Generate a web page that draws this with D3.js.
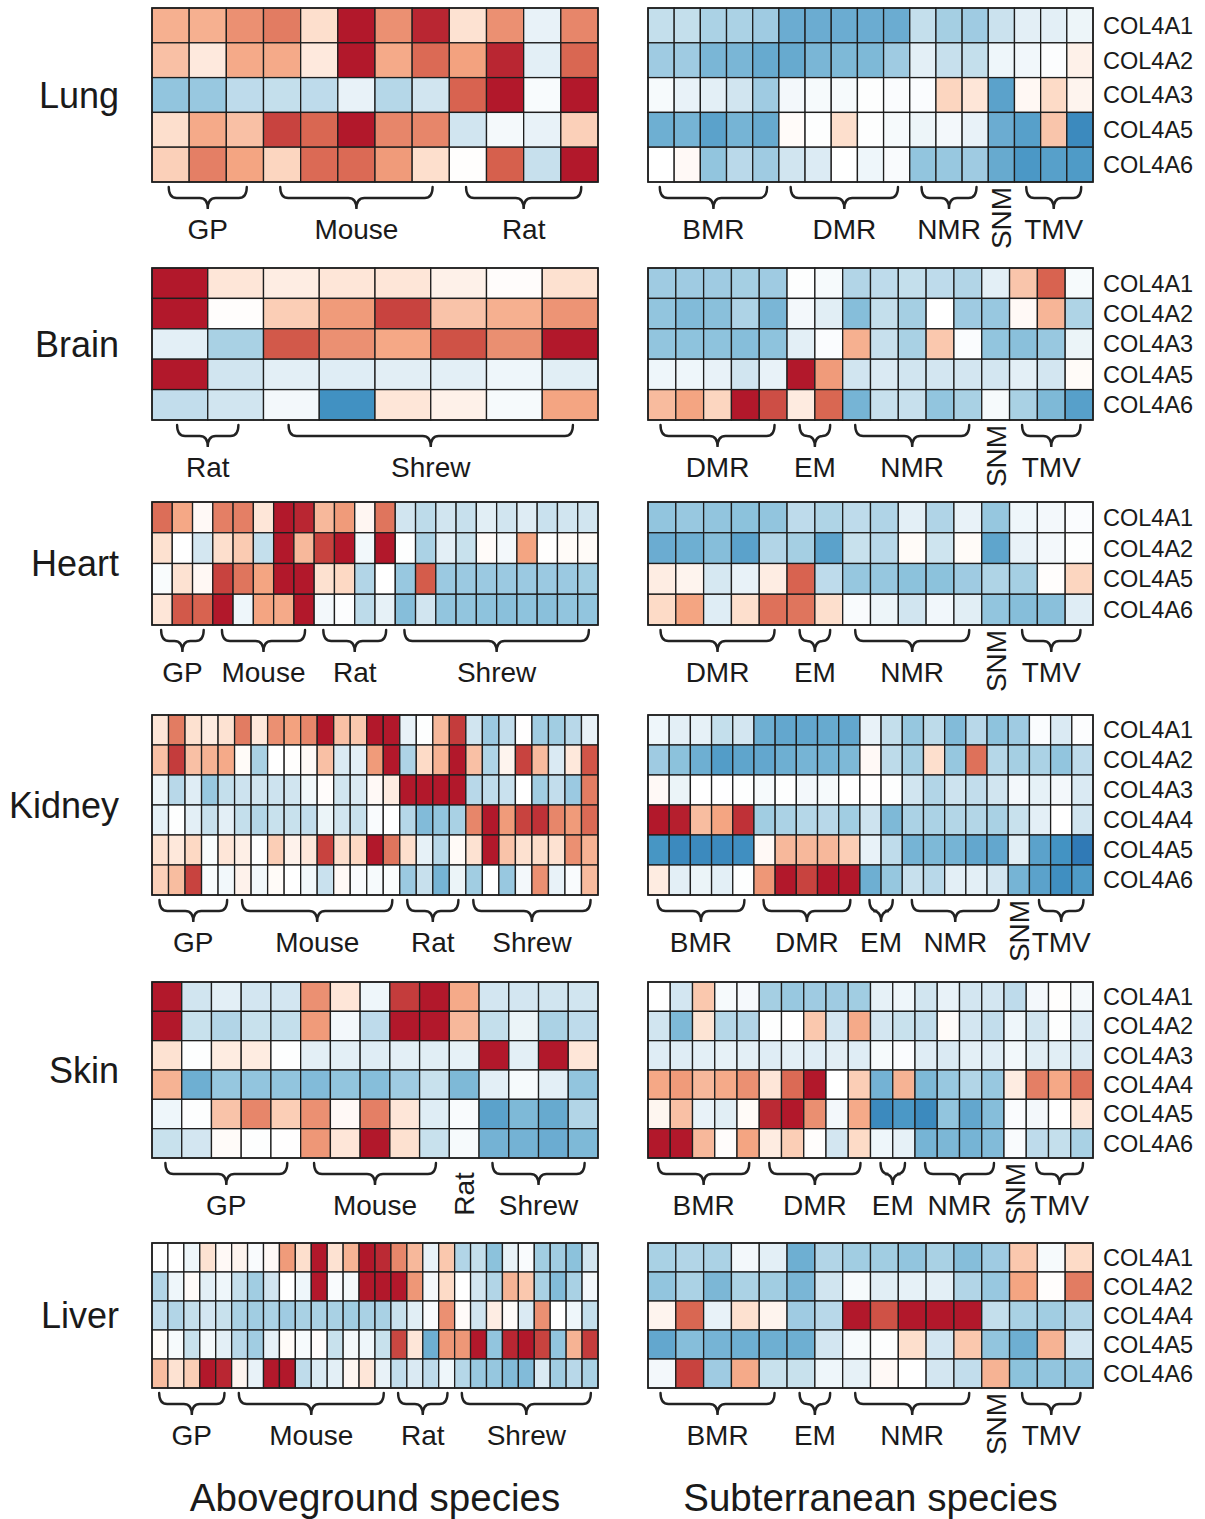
<!DOCTYPE html>
<html>
<head>
<meta charset="utf-8">
<script src="https://cdn.jsdelivr.net/npm/d3@7/dist/d3.min.js"></script>
<style>
  body { margin: 0; background: #fff; }
  text { font-family: "Liberation Sans", Arial, Helvetica, sans-serif; fill: #1a1a1a; }
</style>
</head>
<body>
<div id="chart"></div>
<script>
// ---- data (relative expression, blue = low, red = high) ----
var tissues = ["Lung", "Brain", "Heart", "Kidney", "Skin", "Liver"];

var lungGenes   = ["COL4A1", "COL4A2", "COL4A3", "COL4A5", "COL4A6"];
var brainGenes  = ["COL4A1", "COL4A2", "COL4A3", "COL4A5", "COL4A6"];
var heartGenes  = ["COL4A1", "COL4A2", "COL4A5", "COL4A6"];
var kidneyGenes = ["COL4A1", "COL4A2", "COL4A3", "COL4A4", "COL4A5", "COL4A6"];
var skinGenes   = ["COL4A1", "COL4A2", "COL4A3", "COL4A4", "COL4A5", "COL4A6"];
var liverGenes  = ["COL4A1", "COL4A2", "COL4A4", "COL4A5", "COL4A6"];

// groups: [label, first column, last column]
var lungAboveGroups   = [["GP", 0, 2], ["Mouse", 3, 7], ["Rat", 8, 11]];
var brainAboveGroups  = [["Rat", 0, 1], ["Shrew", 2, 7]];
var heartAboveGroups  = [["GP", 0, 2], ["Mouse", 3, 7], ["Rat", 8, 11], ["Shrew", 12, 21]];
var kidneyAboveGroups = [["GP", 0, 4], ["Mouse", 5, 14], ["Rat", 15, 18], ["Shrew", 19, 26]];
var skinAboveGroups   = [["GP", 0, 4], ["Mouse", 5, 9], ["Rat", 10, 10], ["Shrew", 11, 14]];
var liverAboveGroups  = [["GP", 0, 4], ["Mouse", 5, 14], ["Rat", 15, 18], ["Shrew", 19, 27]];

var lungSubGroups   = [["BMR", 0, 4], ["DMR", 5, 9], ["NMR", 10, 12], ["SNM", 13, 13], ["TMV", 14, 16]];
var brainSubGroups  = [["DMR", 0, 4], ["EM", 5, 6], ["NMR", 7, 11], ["SNM", 12, 12], ["TMV", 13, 15]];
var heartSubGroups  = [["DMR", 0, 4], ["EM", 5, 6], ["NMR", 7, 11], ["SNM", 12, 12], ["TMV", 13, 15]];
var kidneySubGroups = [["BMR", 0, 4], ["DMR", 5, 9], ["EM", 10, 11], ["NMR", 12, 16], ["SNM", 17, 17], ["TMV", 18, 20]];
var skinSubGroups   = [["BMR", 0, 4], ["DMR", 5, 9], ["EM", 10, 11], ["NMR", 12, 15], ["SNM", 16, 16], ["TMV", 17, 19]];
var liverSubGroups  = [["BMR", 0, 4], ["EM", 5, 6], ["NMR", 7, 11], ["SNM", 12, 12], ["TMV", 13, 15]];

var lungAbove = [
  [0.9, 0.9, 1.3, 1.6, 0.45, 3, 1.3, 2.8, 0.4, 1.3, -0.25, 1.45],
  [0.75, 0.3, 0.95, 0.95, 0.3, 3, 0.95, 1.85, 1.05, 2.8, -0.3, 1.9],
  [-1.0, -0.95, -0.65, -0.6, -0.65, -0.25, -0.72, -0.5, 1.95, 3, -0.08, 3],
  [0.45, 0.95, 0.75, 2.4, 1.9, 3, 1.45, 1.45, -0.5, -0.12, -0.25, 0.6],
  [0.6, 1.55, 1.0, 0.55, 1.85, 1.85, 1.15, 0.45, 0.02, 2.0, -0.58, 3]
];
var lungSub = [
  [-0.6, -0.6, -0.8, -0.8, -0.9, -1.5, -1.5, -1.5, -1.5, -1.5, -0.6, -0.85, -0.9, -0.55, -0.3, -0.3, -0.2],
  [-0.9, -0.9, -1.3, -1.3, -1.55, -1.55, -1.3, -1.25, -1.25, -0.9, -0.3, -0.58, -0.6, -0.18, -0.15, -0.03, 0.2],
  [-0.1, -0.25, -0.3, -0.5, -0.9, -0.13, -0.1, -0.1, -0.02, -0.05, -0.05, 0.55, 0.35, -1.7, 0.1, 0.5, 0.15],
  [-1.45, -1.35, -1.7, -1.35, -1.55, 0.05, -0.02, 0.45, -0.02, -0.1, -0.2, -0.13, -0.25, -1.5, -1.75, 0.7, -2.2],
  [0, 0.08, -1.0, -0.68, -0.9, -0.5, -0.38, 0, -0.18, -0.07, -1.0, -0.95, -0.9, -1.55, -1.9, -1.75, -1.85]
];

var brainAbove = [
  [3, 0.35, 0.25, 0.35, 0.35, 0.2, 0.04, 0.42],
  [3, 0.03, 0.62, 1.15, 2.4, 0.72, 0.9, 1.25],
  [-0.3, -0.82, 2.1, 1.3, 0.97, 2.2, 1.32, 3],
  [3, -0.5, -0.3, -0.35, -0.32, -0.3, -0.18, -0.33],
  [-0.62, -0.5, -0.13, -2.05, 0.35, 0.2, -0.1, 1.0]
];
var brainSub = [
  [-0.9, -0.9, -0.9, -0.85, -0.9, -0.02, -0.1, -0.75, -0.65, -0.6, -0.65, -0.75, -0.3, 0.7, 1.95, -0.1],
  [-1.0, -1.2, -1.1, -0.78, -1.3, -0.13, -0.33, -1.15, -0.6, -0.85, 0, -0.9, -0.95, 0.08, 0.85, -0.77],
  [-1.0, -1.05, -1.05, -1.15, -1.05, -0.3, -0.05, 0.9, -0.58, -0.82, 0.68, -0.05, -1.0, -1.1, -0.95, -0.22],
  [-0.18, -0.18, -0.25, -0.5, -0.25, 3, 1.15, -0.5, -0.4, -0.5, -0.48, -0.48, -0.48, -0.3, -0.48, 0.06],
  [0.8, 1.0, 0.55, 3, 2.25, 0.28, 1.9, -1.35, -0.58, -0.58, -1.0, -0.82, -0.1, -0.82, -1.25, -1.75]
];

var heartAbove = [
  [1.8, 0.97, 0.08, 1.55, 1.55, 0.35, 3, 2.8, 0.82, 1.15, 0.12, 1.7, -0.5, -0.66, -0.5, -0.58, -0.33, -0.5, -0.36, -0.56, -0.5, -0.5],
  [0.42, 0, -0.47, 0.45, 0.65, -0.6, 3, 0.82, 2.4, 3, -0.14, 3, -0.02, -0.8, -0.3, -0.57, 0.05, -0.13, 1.0, 0.02, 0.06, 0.06],
  [-0.06, 0.4, 0.1, 2.4, 1.7, 1.0, 3, 3, 0.42, 0.52, -0.75, 0, -0.95, 2.05, -0.93, -0.93, -0.93, -0.93, -0.93, -0.93, -0.93, -0.88],
  [0.35, 2.1, 1.95, 3, -0.18, 1.0, 0.95, 3, -0.13, -0.03, -0.66, -0.27, -1.15, -0.5, -1.0, -1.0, -1.05, -1.1, -1.05, -1.1, -1.0, -1.0]
];
var heartSub = [
  [-1.0, -0.95, -1.0, -1.07, -1.0, -0.65, -0.77, -0.65, -0.76, -0.3, -0.76, -0.25, -0.97, -0.18, -0.13, -0.05],
  [-1.5, -1.45, -1.15, -1.7, -0.75, -0.85, -1.7, -0.57, -0.7, 0.06, -0.52, 0.06, -1.65, -0.25, -0.13, -0.02],
  [0.25, 0.15, -0.45, -0.25, 0.25, 1.95, -0.65, -0.97, -0.97, -1.07, -1.07, -0.9, -0.77, -0.85, 0.03, 0.55],
  [0.5, 1.0, -0.35, 0.45, 1.75, 1.7, 0.45, -0.07, -0.2, -0.5, -0.15, -0.33, -1.0, -1.15, -1.1, -0.35]
];

var kidneyAbove = [
  [0.35, 1.6, 0.42, 0.27, 0.4, 1.6, 0.32, 1.3, 1.05, 1.45, 3, 0.75, 0.68, 3, 3, -0.25, -0.02, 0.82, 2.5, -0.5, -0.93, -0.62, 0.01, -0.88, -0.88, -0.7, -0.25],
  [0.75, 2.5, 0.75, 0.88, 0.95, 0.06, -0.82, 0, 0.02, 0.08, 0.75, -0.4, -0.3, 1.15, 3, -0.78, 0.5, 0.87, 3, 0.75, -0.77, 0.15, 2.4, 0.8, -0.4, 0.32, 2.15],
  [-0.2, -0.7, -0.35, -0.95, -0.6, -0.53, -0.5, -0.53, -0.5, -0.14, 0.04, -0.5, -0.4, 0.08, 0.27, 3, 3, 3, 3, -0.7, -0.64, -0.56, 0, -0.88, -0.62, -0.93, 1.6],
  [-0.27, -0.02, -0.3, -0.58, -0.3, -0.6, -0.74, -0.57, -0.57, -0.62, -0.22, -0.5, -0.57, -0.07, 0, -0.72, -1.2, -1.0, -0.82, 1.45, 3, 1.15, 2.4, 2.65, 1.45, 1.15, 1.85],
  [0.42, 0.32, 0.52, -0.06, 0.35, 0.22, -0.02, 0.62, 0.18, 0.33, 2.4, 0.45, 0.52, 3, 1.7, 0.45, -0.27, -0.7, 0.07, 0.4, 3, 0.72, 0.42, 0.48, 0.4, 1.3, 0.88],
  [0.6, 0.78, 2.4, -0.06, -0.14, 0.18, -0.14, 0.06, 0, -0.14, -0.56, 0.08, -0.07, -0.1, -0.06, -0.93, -0.58, -1.35, -0.22, -0.88, 0, -0.95, -0.13, 1.3, -0.25, -0.07, 0.8]
];
var kidneySub = [
  [-0.18, -0.3, -0.27, -0.6, -0.48, -1.45, -1.6, -1.6, -1.55, -1.6, -0.25, -0.6, -0.97, -0.66, -1.2, -0.7, -1.05, -0.9, -0.05, -0.4, -0.03],
  [-0.9, -1.07, -1.45, -1.8, -1.65, -1.6, -1.45, -1.35, -1.35, -1.25, 0.08, -0.66, -0.85, 0.45, -0.97, 1.75, -0.72, -0.85, -0.8, -1.0, -0.65],
  [0.08, -0.22, 0, -0.01, -0.02, -0.1, -0.02, -0.13, -0.1, 0, 0.01, -0.02, -0.5, -0.75, -0.53, -0.62, -0.5, -0.13, -0.27, -0.13, -0.4],
  [3, 2.9, 0.78, 1.0, 2.65, -0.88, -0.8, -0.72, -0.7, -0.88, -0.53, -1.25, -0.8, -0.8, -0.74, -0.74, -0.82, -0.57, -0.3, 0, -0.5],
  [-1.95, -2.2, -2.2, -2.2, -2.1, 0.08, 0.82, 0.82, 0.82, 0.62, -0.25, -0.64, -1.35, -1.25, -1.35, -1.6, -1.6, -0.33, -1.7, -2.0, -2.55],
  [0.27, -0.3, -0.22, -0.3, -0.02, 1.2, 3, 2.4, 3, 3, -1.45, -0.97, -0.58, -0.7, -0.3, -0.3, -0.48, -1.35, -1.7, -2.1, -1.85]
];

var skinAbove = [
  [3, -0.5, -0.3, -0.48, -0.48, 1.3, 0.35, -0.18, 2.5, 3, 0.95, -0.48, -0.48, -0.5, -0.5],
  [3, -0.57, -0.75, -0.57, -0.6, 1.15, -0.13, -0.65, 3, 3, 0.82, -0.6, -0.22, -0.8, -0.65],
  [0.4, -0.02, 0.27, 0.27, -0.02, -0.3, -0.3, -0.35, -0.3, -0.33, -0.27, 3, -0.3, 3, 0.35],
  [0.87, -1.45, -0.97, -1.0, -1.0, -1.2, -1.0, -1.15, -0.9, -0.57, -1.25, -0.3, -0.1, -0.3, -1.0],
  [-0.18, -0.02, 0.72, 1.45, 0.62, 1.3, 0.08, 1.55, 0.35, -0.35, -0.07, -1.7, -1.25, -1.55, -0.75],
  [-0.57, -0.48, 0.05, -0.02, 0.01, 1.2, 0.35, 3, 0.42, -0.57, -0.1, -1.38, -1.38, -1.5, -1.25]
];
var skinSub = [
  [0, -0.48, 0.68, -0.1, -0.11, -0.85, -0.95, -0.9, -0.9, -0.88, -0.27, -0.18, -0.5, -0.25, -0.48, -0.48, -0.65, -0.13, 0.02, -0.12],
  [-0.5, -1.25, 0.38, -0.72, -0.75, -0.02, 0, 0.68, -0.48, 0.95, -0.48, -0.57, -0.62, 0.05, -0.48, -0.62, -0.18, -0.5, -0.02, -0.4],
  [-0.35, -0.35, -0.3, -0.27, -0.3, -0.35, -0.3, -0.35, -0.32, -0.35, -0.1, -0.05, -0.35, -0.4, -0.3, -0.35, -0.14, -0.33, -0.33, -0.4],
  [0.97, 1.15, 0.82, 0.95, 1.3, 0.35, 1.85, 3, 0, 0.62, -1.38, 0.87, -1.25, -0.95, -0.75, -0.95, 0.27, 1.55, 0.97, 1.75],
  [0.13, 0.75, -0.25, -0.33, 0.06, 2.75, 3, 1.32, -0.13, 0.95, -2.2, -1.9, -2.2, -1.0, -1.6, -1.15, -0.05, -0.13, 0, 0.35],
  [3, 3, 0.82, 0.04, 1.0, 0.27, 0.62, 0.03, -0.48, 0.5, -0.18, -0.27, -1.35, -1.28, -1.35, -1.2, -0.07, -0.65, -0.6, -0.82]
];

var liverAbove = [
  [0, 0, -0.18, 0.4, 0.08, 0.15, -0.07, 0.08, 1.15, 0.45, 3, 0.4, 0.87, 3, 2.75, 1.45, 0.82, -0.25, 0.68, -0.75, -0.6, -1.07, -0.25, -0.07, -0.88, -0.88, -1.07, -0.5],
  [-0.75, -0.18, 0.05, -0.3, -0.18, -0.6, -0.88, -0.5, 0, -0.18, 3, -0.07, -0.12, 3, 3, 3, 1.2, -0.13, 0.5, 0, -0.48, -0.75, 0.87, 0.68, -0.82, -1.2, -0.82, -0.13],
  [-0.62, -0.75, -0.6, -0.48, -0.57, -0.82, -0.88, -0.8, -0.9, -0.82, -0.82, -0.82, -0.88, -0.82, -0.82, -0.57, -0.33, -0.07, 1.3, 0.05, -0.5, 0.25, 0.05, -0.4, 1.3, 0, -0.18, -0.6],
  [0.06, -0.1, -0.57, -0.13, -0.3, -0.7, -0.88, -0.27, 0.06, -0.1, 0.04, -0.57, -0.13, -0.18, -0.57, 2.35, 0.35, -1.45, 1.2, 1.2, 3, -1.0, 2.8, 3, 2.4, -1.0, 0.87, 2.5],
  [0.78, 0.4, 0.62, 3, 2.8, 0.15, -0.25, 3, 3, -0.64, -0.4, -0.3, 0.12, 0.35, -0.25, -0.62, -0.4, -0.65, -0.18, -0.72, -0.95, -0.97, -1.2, -1.2, -0.4, -0.88, -0.7, -0.82]
];
var liverSub = [
  [-0.82, -0.75, -0.8, -0.13, -0.3, -1.45, -0.75, -0.88, -0.88, -1.0, -0.82, -1.15, -0.9, 0.68, -0.1, 0.5],
  [-1.0, -0.8, -1.28, -0.8, -0.88, -1.3, -0.5, -0.1, -0.33, -0.27, -0.3, -0.75, -0.95, 1.0, 0.03, 1.6],
  [0.15, 1.9, -0.25, 0.42, 0.15, -0.9, -0.7, 3, 2.2, 3, 3, 3, -0.6, -0.82, -0.88, -0.75],
  [-1.6, -1.15, -1.35, -1.45, -1.45, -1.45, -0.48, -0.1, -0.02, 0.45, -0.48, 0.68, -1.0, -1.45, 0.87, -0.48],
  [-0.13, 2.4, -0.9, 0.95, -0.57, -0.57, -0.18, -0.27, 0.08, 0, -0.48, -0.62, 0.87, -1.07, -1.0, -1.0]
];

var sideTitles = ["Aboveground species", "Subterranean species"];

// ---- layout ----
var svgWidth = 1205;
var svgHeight = 1519;

var panelTop    = [8, 268, 502, 715, 982, 1243];
var panelBottom = [182, 420, 625, 895, 1158, 1388];
var leftX  = [152, 598];
var rightX = [648, 1093];

var geneList  = [lungGenes, brainGenes, heartGenes, kidneyGenes, skinGenes, liverGenes];
var aboveData = [lungAbove, brainAbove, heartAbove, kidneyAbove, skinAbove, liverAbove];
var subData   = [lungSub, brainSub, heartSub, kidneySub, skinSub, liverSub];
var aboveGroups = [lungAboveGroups, brainAboveGroups, heartAboveGroups, kidneyAboveGroups, skinAboveGroups, liverAboveGroups];
var subGroups   = [lungSubGroups, brainSubGroups, heartSubGroups, kidneySubGroups, skinSubGroups, liverSubGroups];

var color = d3.scaleLinear()
  .domain([-3, -2, -1, -0.5, 0, 0.5, 1, 2, 3])
  .range(["#2166ac", "#4393c3", "#92c5de", "#d1e5f0", "#ffffff", "#fddbc7", "#f4a582", "#d6604d", "#b2182b"])
  .clamp(true);

var svg = d3.select("#chart")
  .append("svg")
  .attr("width", svgWidth)
  .attr("height", svgHeight);

// curly brace under a group of columns
function brace(x0, x1, y) {
  var ym = y + 11, yt = y + 22, r = 8, mid = (x0 + x1) / 2;
  return "M" + x0 + "," + y +
    " Q" + x0 + "," + ym + " " + (x0 + r) + "," + ym +
    " L" + (mid - r) + "," + ym +
    " Q" + mid + "," + ym + " " + mid + "," + yt +
    " Q" + mid + "," + ym + " " + (mid + r) + "," + ym +
    " L" + (x1 - r) + "," + ym +
    " Q" + x1 + "," + ym + " " + x1 + "," + y;
}

function drawPanel(matrix, groups, xr, top, bottom) {
  var nCols = matrix[0].length;
  var x = d3.scaleBand().domain(d3.range(nCols)).range(xr);
  var y = d3.scaleBand().domain(d3.range(matrix.length)).range([top, bottom]);

  var g = svg.append("g");
  var cells = [];
  matrix.forEach(function(row, r) {
    row.forEach(function(v, c) { cells.push({ r: r, c: c, v: v }); });
  });

  g.selectAll("rect.cell")
    .data(cells)
    .enter()
    .append("rect")
    .attr("class", "cell")
    .attr("x", d => x(d.c))
    .attr("y", d => y(d.r))
    .attr("width", x.bandwidth())
    .attr("height", y.bandwidth())
    .attr("fill", d => color(d.v))
    .attr("stroke", "#1e1e1e")
    .attr("stroke-width", 1.3);

  g.append("rect")
    .attr("x", xr[0]).attr("y", top)
    .attr("width", xr[1] - xr[0]).attr("height", bottom - top)
    .attr("fill", "none")
    .attr("stroke", "#1e1e1e")
    .attr("stroke-width", 1.6);

  var bw = x.bandwidth();
  var inset = bw * 0.45;

  groups.forEach(function(grp) {
    var x0 = x(grp[1]), x1 = x(grp[2]) + bw;
    var cx = (x0 + x1) / 2;
    if (grp[1] === grp[2]) {
      // single-column group: vertical label
      g.append("text")
        .attr("transform", `translate(${cx},${bottom + 36}) rotate(-90)`)
        .attr("text-anchor", "middle")
        .attr("dy", "0.36em")
        .attr("font-size", 28)
        .text(grp[0]);
    } else {
      g.append("path")
        .attr("d", brace(x0 + inset, x1 - inset, bottom + 5))
        .attr("fill", "none")
        .attr("stroke", "#222")
        .attr("stroke-width", 2.4)
        .attr("stroke-linecap", "round");
      g.append("text")
        .attr("x", cx)
        .attr("y", bottom + 57)
        .attr("text-anchor", "middle")
        .attr("font-size", 28)
        .text(grp[0]);
    }
  });
  return y;
}

tissues.forEach(function(tissue, i) {
  var top = panelTop[i], bottom = panelBottom[i];
  drawPanel(aboveData[i], aboveGroups[i], leftX, top, bottom);
  var y = drawPanel(subData[i], subGroups[i], rightX, top, bottom);

  // gene names on the right
  svg.selectAll(null)
    .data(geneList[i])
    .enter()
    .append("text")
    .attr("x", 1103)
    .attr("y", (d, r) => y(r) + y.bandwidth() / 2)
    .attr("dy", "0.36em")
    .attr("font-size", 23.5)
    .text(d => d);

  // tissue name on the left
  svg.append("text")
    .attr("x", 119)
    .attr("y", (top + bottom) / 2)
    .attr("dy", "0.36em")
    .attr("text-anchor", "end")
    .attr("font-size", 36)
    .text(tissue);
});

// bottom titles
svg.selectAll("text.side")
  .data(sideTitles)
  .enter()
  .append("text")
  .attr("class", "side")
  .attr("x", (d, i) => i === 0 ? (leftX[0] + leftX[1]) / 2 : (rightX[0] + rightX[1]) / 2)
  .attr("y", 1511)
  .attr("text-anchor", "middle")
  .attr("font-size", 38.5)
  .text(d => d);
</script>
</body>
</html>
